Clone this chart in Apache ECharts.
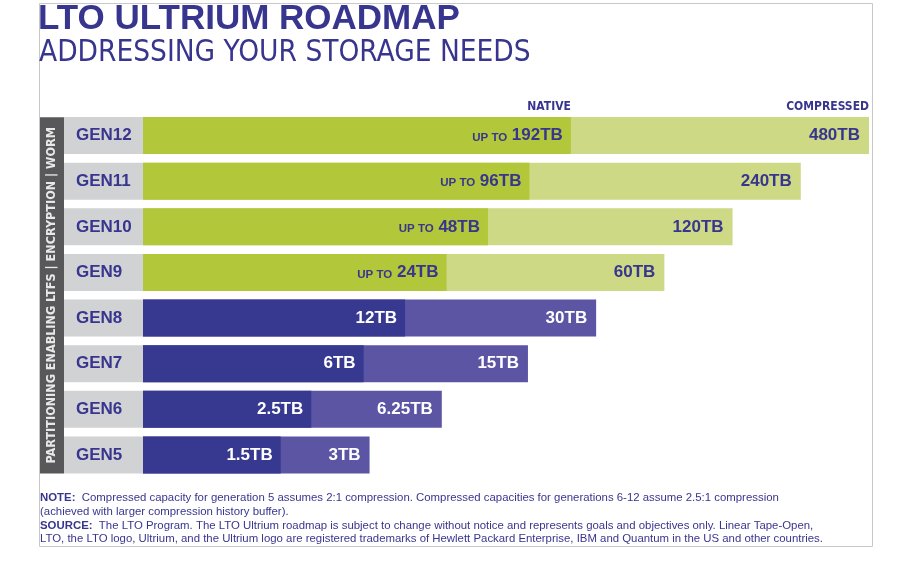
<!DOCTYPE html>
<html>
<head>
<meta charset="utf-8">
<script src="https://cdn.jsdelivr.net/npm/echarts@6/dist/echarts.min.js"></script>
<style>
html,body{margin:0;padding:0;background:#fff;}
#chart{width:900px;height:563px;}
</style>
</head>
<body>
<div id="chart"></div>
<script>
// ---- data ----
const generations = ['GEN5', 'GEN6', 'GEN7', 'GEN8', 'GEN9', 'GEN10', 'GEN11', 'GEN12'];
const nativeTB = [1.5, 2.5, 6, 12, 24, 48, 96, 192];
const compressedTB = [3, 6.25, 15, 30, 60, 120, 240, 480];
const nativePrefix = ['', '', '', '', 'UP TO', 'UP TO', 'UP TO', 'UP TO'];
const headerNative = 'NATIVE';
const headerCompressed = 'COMPRESSED';
const sideNote = 'PARTITIONING ENABLING LTFS | ENCRYPTION | WORM';
const titleText = 'LTO ULTRIUM ROADMAP';
const subtitleText = 'ADDRESSING YOUR STORAGE NEEDS';
const noteLines = [
  ['NOTE:', 'Compressed capacity for generation 5 assumes 2:1 compression. Compressed capacities for generations 6-12 assume 2.5:1 compression'],
  ['', '(achieved with larger compression history buffer).'],
  ['SOURCE:', 'The LTO Program. The LTO Ultrium roadmap is subject to change without notice and represents goals and objectives only. Linear Tape-Open,'],
  ['', 'LTO, the LTO logo, Ultrium, and the Ultrium logo are registered trademarks of Hewlett Packard Enterprise, IBM and Quantum in the US and other countries.']
];

// ---- styles ----
const BLUE_TEXT = '#38358f';
const C = {
  nativeOld: '#37388f', compOld: '#5b55a4',
  nativeNew: '#b3c73a', compNew: '#cdd985'
};
const NARROW = "'Liberation Sans Narrow', 'DejaVu Sans Condensed', 'Liberation Sans', sans-serif";
const SANS = "'Liberation Sans', Arial, sans-serif";
const isNew = i => i >= 4;

const chart = echarts.init(document.getElementById('chart'));

const nativeData = nativeTB.map((v, i) => ({
  value: v,
  itemStyle: { color: isNew(i) ? C.nativeNew : C.nativeOld },
  label: { color: isNew(i) ? BLUE_TEXT : '#ffffff' }
}));
const compData = compressedTB.map((v, i) => ({
  value: v,
  itemStyle: { color: isNew(i) ? C.compNew : C.compOld },
  label: { color: isNew(i) ? BLUE_TEXT : '#ffffff' }
}));

const titles = [
  { text: titleText, left: 38, top: 2, padding: 0,
    textStyle: { fontFamily: SANS, fontWeight: 'bold', fontSize: 35, color: BLUE_TEXT } },
  { text: subtitleText, left: 39, top: 38, padding: 0,
    textStyle: { fontFamily: NARROW, fontWeight: 'normal', fontSize: 29.5, color: BLUE_TEXT } }
];
noteLines.forEach((ln, k) => {
  titles.push({
    text: (ln[0] ? '{b|' + ln[0] + '}  ' : '') + '{r|' + ln[1] + '}',
    left: 40, top: 492.5 + k * 13.7, padding: 0,
    textStyle: {
      fontFamily: SANS, fontSize: 11.4, fontWeight: 'normal', color: BLUE_TEXT,
      rich: {
        b: { fontFamily: SANS, fontSize: 11.4, fontWeight: 'bold', color: BLUE_TEXT },
        r: { fontFamily: SANS, fontSize: 11.4, fontWeight: 'normal', color: BLUE_TEXT }
      }
    }
  });
});

const valueLabelRich = {
  s: { fontFamily: SANS, fontSize: 11.5, fontWeight: 'bold', padding: [4, 0, 0, 0] },
  v: { fontFamily: SANS, fontSize: 17, fontWeight: 'bold' }
};

const option = {
  animation: false,
  backgroundColor: '#ffffff',
  title: titles,
  graphic: [{
    type: 'rect', silent: true, z: -10,
    shape: { x: 39.5, y: 3.5, width: 833, height: 543 },
    style: { fill: 'none', stroke: '#c9c9c9', lineWidth: 1 }
  }],
  grid: { left: 143, right: 27, top: 112.8, bottom: 85.2, containLabel: false },
  xAxis: [
    { type: 'log', logBase: 2, min: 0.15, max: 30000, startValue: 0.15, show: false },
    { type: 'log', logBase: 2, min: 0.3, max: 500, startValue: 0.3, show: false }
  ],
  yAxis: {
    type: 'category',
    data: generations,
    axisLine: { show: false },
    axisTick: { show: false },
    splitLine: { show: false },
    axisLabel: {
      margin: 79,
      align: 'left',
      verticalAlign: 'middle',
      width: 67,
      height: 37,
      lineHeight: 37,
      padding: [0, 0, 0, 12],
      backgroundColor: '#d1d2d4',
      fontFamily: SANS,
      fontSize: 17,
      fontWeight: 'bold',
      color: BLUE_TEXT
    },
    name: sideNote,
    nameLocation: 'middle',
    nameRotate: 90,
    nameGap: 91,
    nameMoveOverlap: false,
    nameTextStyle: {
      fontFamily: NARROW,
      fontSize: 12.5,
      fontWeight: 'bold',
      color: '#e8e8e9',
      backgroundColor: '#58585a',
      height: 24,
      lineHeight: 24,
      padding: [0, 10, 0, 10],
      align: 'center',
      verticalAlign: 'middle'
    }
  },
  series: [
    {
      name: 'Compressed',
      type: 'bar',
      xAxisIndex: 1,
      barWidth: 37,
      barGap: '-100%',
      z: 2,
      data: compData,
      label: {
        show: true,
        position: 'insideRight',
        distance: 9,
        fontFamily: SANS,
        fontSize: 17,
        fontWeight: 'bold',
        formatter: p => p.value + 'TB'
      },
      markPoint: {
        symbol: 'circle', symbolSize: 0, silent: true,
        data: [{ coord: [compressedTB[7], generations[7]], value: 0 }],
        label: {
          show: true, position: 'top', distance: 23, align: 'right',
          formatter: headerCompressed,
          fontFamily: NARROW, fontSize: 12, fontWeight: 'bold', color: BLUE_TEXT
        }
      }
    },
    {
      name: 'Native',
      type: 'bar',
      xAxisIndex: 0,
      barWidth: 37,
      barGap: '-100%',
      z: 3,
      data: nativeData,
      label: {
        show: true,
        position: 'insideRight',
        distance: 8,
        fontFamily: SANS,
        fontSize: 17,
        fontWeight: 'bold',
        rich: valueLabelRich,
        formatter: p => {
          const pre = nativePrefix[p.dataIndex];
          return (pre ? '{s|' + pre + '} ' : '') + '{v|' + p.value + 'TB}';
        }
      },
      markPoint: {
        symbol: 'circle', symbolSize: 0, silent: true,
        data: [{ coord: [nativeTB[7], generations[7]], value: 0 }],
        label: {
          show: true, position: 'top', distance: 23, align: 'right',
          formatter: headerNative,
          fontFamily: NARROW, fontSize: 12, fontWeight: 'bold', color: BLUE_TEXT
        }
      }
    }
  ]
};
chart.setOption(option);
</script>
</body>
</html>
